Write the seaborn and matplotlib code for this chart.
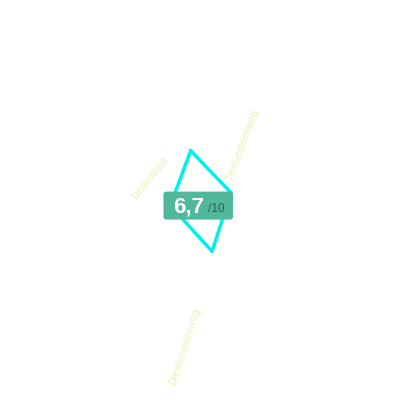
import numpy as np
import matplotlib
matplotlib.use("Agg")
import matplotlib.pyplot as plt
from matplotlib.patches import FancyBboxPatch
import seaborn as sns

# data
streets = ["Lindestraat", "Tiensesteenweg", "Diestsesteenweg"]
axis_values = [24.7, 15.3, 26.8, 15.7]   # radar values, clockwise from top
score = "6,7"
score_max = "/10"

sns.set_theme(style="white")
plt.rcParams["font.family"] = ["Liberation Sans", "DejaVu Sans"]

fig = plt.figure(figsize=(4, 4), dpi=100)
ax = fig.add_axes([0.0025, 0.0025, 1, 1], projection="polar")
ax.set_theta_zero_location("N", offset=12)
ax.set_theta_direction(-1)

n = len(axis_values)
theta = np.linspace(0, 2 * np.pi, n, endpoint=False)
theta_closed = np.append(theta, theta[0])
vals_closed = np.append(axis_values, axis_values[0])

sns.lineplot(x=theta_closed, y=vals_closed, sort=False, ax=ax,
             color="#00f0f0", lw=2.5, estimator=None)
ax.set_ylim(0, 100)
ax.set_axis_off()

# axis labels (rotated, faint)
label_pos = [(150, 178, 51), (243, 145, 69), (185, 347, 72)]
for name, (x, y, rot) in zip(streets, label_pos):
    fig.text(x / 400, 1 - y / 400, name, rotation=rot, rotation_mode="anchor",
             ha="center", va="center", fontsize=7.5, color="#eaf2b0")

# score badge
badge = FancyBboxPatch((0.4085, 0.451), 0.174, 0.07,
                       boxstyle="round,pad=0.0,rounding_size=0.008",
                       transform=fig.transFigure, facecolor="#52b89c",
                       edgecolor="none", zorder=5)
fig.patches.append(badge)
fig.text(189 / 400, 1 - 213 / 400, score, ha="center", va="baseline",
         fontsize=16, fontweight="bold", color="white", zorder=6)
fig.text(216 / 400, 1 - 212.5 / 400, score_max, ha="center", va="baseline",
         fontsize=8.5, color="#2f5f50", zorder=6)

fig.savefig("out.png", dpi=100)
